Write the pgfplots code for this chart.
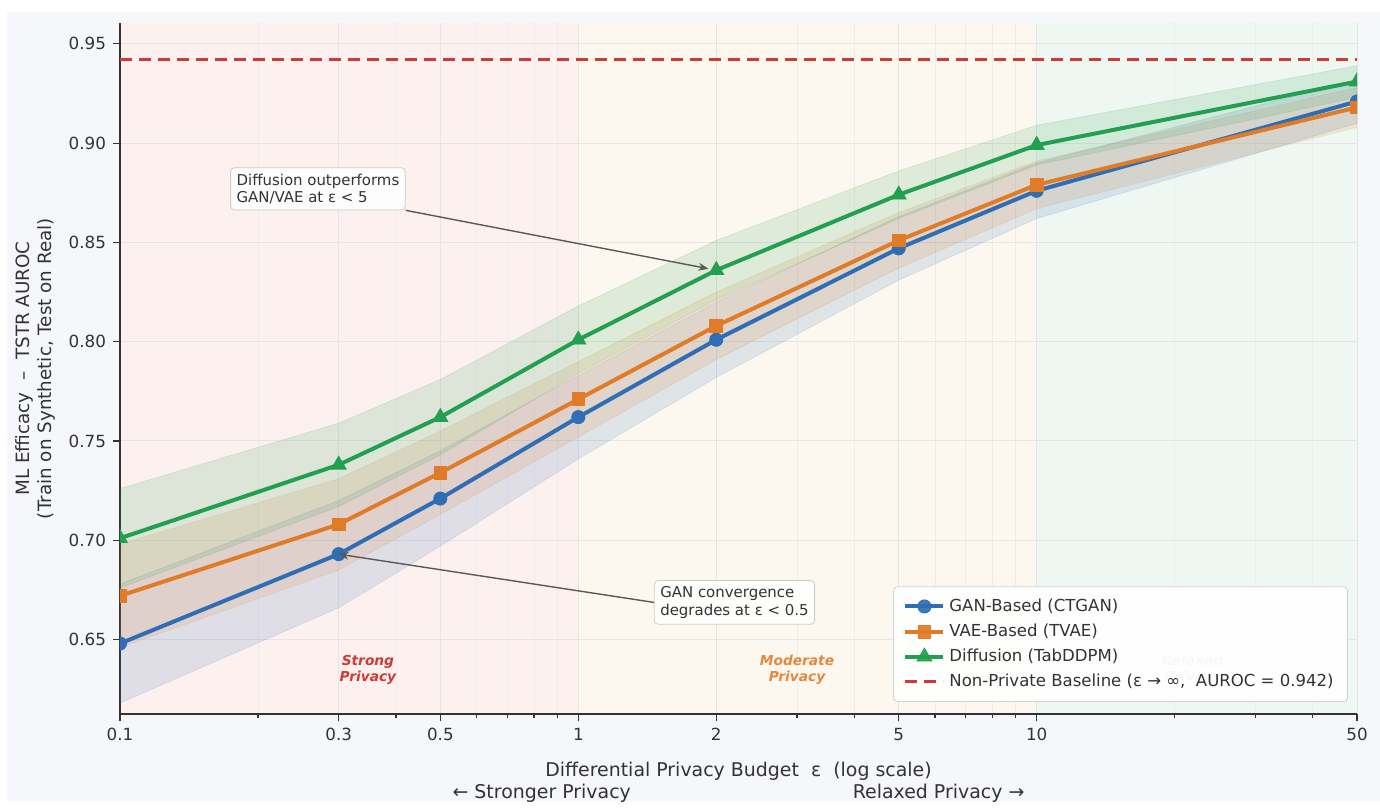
\documentclass[border=0pt]{standalone}
\usepackage{fontspec}
\setmainfont{DejaVu Sans}
\usepackage{pgfplots}
\usepackage{pgfplotstable}
\pgfplotsset{compat=1.18}
\usetikzlibrary{arrows.meta}

\definecolor{cgan}{HTML}{2F6DB5}
\definecolor{cvae}{HTML}{E07B27}
\definecolor{cdif}{HTML}{23A04F}
\definecolor{cbase}{HTML}{D03A35}
\definecolor{figbg}{HTML}{F6F7FB}
\definecolor{rstrong}{HTML}{FCF1EF}
\definecolor{rmod}{HTML}{FDF8EF}
\definecolor{rrel}{HTML}{EEF7F2}
\definecolor{txt}{HTML}{333333}

\pgfplotstableread{
eps gan vae dif
0.1 0.648 0.672 0.701
0.3 0.693 0.708 0.738
0.5 0.721 0.734 0.762
1   0.762 0.771 0.801
2   0.801 0.808 0.836
5   0.847 0.851 0.874
10  0.876 0.879 0.899
50  0.921 0.918 0.931
}\data

\begin{document}
\begin{tikzpicture}
\fill[white] (-60bp,-43.5bp) rectangle (630bp,357bp);
\fill[figbg] (-56.5bp,-43.5bp) rectangle (630bp,351bp);
% privacy regions (eps 0.1-1, 1-10, 10-50 on the log axis)
\fill[rstrong] (0bp,0bp) rectangle (229.16bp,345.5bp);
\fill[rmod] (229.16bp,0bp) rectangle (458.32bp,345.5bp);
\fill[rrel] (458.32bp,0bp) rectangle (618.5bp,345.5bp);
\begin{axis}[
  at={(0,0)}, anchor=south west,
  scale only axis, width=618.5bp, height=345.5bp,
  xmode=log, xmin=0.1, xmax=50, ymin=0.6125, ymax=0.9605,
  axis x line*=bottom, axis y line*=left,
  axis line style={-, color=txt, line width=0.8bp},
  xtick={0.1,0.3,0.5,1,2,5,10,50},
  xticklabels={0.1,0.3,0.5,1,2,5,10,50},
  minor xtick={0.2,0.4,0.6,0.7,0.8,0.9,3,4,6,7,8,9,20,30,40},
  ytick={0.65,0.70,0.75,0.80,0.85,0.90,0.95},
  yticklabel style={/pgf/number format/.cd, fixed, fixed zerofill, precision=2},
  /pgf/number format/assume math mode=true,
  ticklabel style={font=\fontsize{8.4}{10}\selectfont, color=txt},
  tick align=outside, major tick length=3.5bp, minor tick length=2bp,
  tick style={color=txt, line width=0.6bp},
  grid=both,
  major grid style={color=black!10, line width=0.5bp},
  minor grid style={color=black!7, line width=0.4bp},
  clip marker paths=true,
  xlabel={Differential Privacy Budget\ \ ε\ \ (log scale)\\← Stronger Privacy\hspace{111bp}Relaxed Privacy →},
  xlabel style={align=center, font=\fontsize{9.5}{11}\selectfont, color=txt, yshift=-4bp},
  ylabel={ML Efficacy\ \ –\ \ TSTR AUROC\\(Train on Synthetic, Test on Real)},
  ylabel style={align=center, font=\fontsize{9.2}{11}\selectfont, color=txt},
  legend style={at={(0.9927,0.0174)}, anchor=south east,
    font=\fontsize{8.3}{10}\selectfont, draw=black!18, fill=white,
    fill opacity=0.92, text opacity=1, rounded corners=2bp,
    row sep=0.8bp, inner xsep=5bp, inner ysep=4bp, text=txt},
  legend cell align=left,
  legend image code/.code={\draw[mark repeat=2,mark phase=2] plot coordinates {(0bp,0bp) (9.5bp,0bp) (19bp,0bp)};},
]
% +/- bands
\addplot[fill=cgan, fill opacity=0.14, draw=cgan, draw opacity=0.12, forget plot] coordinates {(0.1,0.678)(0.3,0.720)(0.5,0.745)(1,0.783)(2,0.820)(5,0.863)(10,0.890)(50,0.932)(50,0.910)(10,0.862)(5,0.831)(2,0.782)(1,0.741)(0.5,0.697)(0.3,0.666)(0.1,0.618)} -- cycle;
\addplot[fill=cvae, fill opacity=0.14, draw=cvae, draw opacity=0.12, forget plot] coordinates {(0.1,0.698)(0.3,0.731)(0.5,0.755)(1,0.790)(2,0.825)(5,0.865)(10,0.891)(50,0.928)(50,0.908)(10,0.867)(5,0.837)(2,0.791)(1,0.752)(0.5,0.713)(0.3,0.685)(0.1,0.646)} -- cycle;
\addplot[fill=cdif, fill opacity=0.14, draw=cdif, draw opacity=0.12, forget plot] coordinates {(0.1,0.726)(0.3,0.759)(0.5,0.781)(1,0.818)(2,0.851)(5,0.886)(10,0.909)(50,0.939)(50,0.923)(10,0.889)(5,0.862)(2,0.821)(1,0.784)(0.5,0.743)(0.3,0.717)(0.1,0.676)} -- cycle;

\node[font=\fontsize{6.9}{8}\selectfont\bfseries\itshape, text=cbase, align=center] at (axis cs:0.3475,0.6348) {Strong\\Privacy};
\node[font=\fontsize{6.9}{8}\selectfont\bfseries\itshape, text=cvae!90, align=center] at (axis cs:3.0,0.6348) {Moderate\\Privacy};
\node[font=\fontsize{6.9}{8}\selectfont\bfseries\itshape, text=cdif, text opacity=0.5, align=center] at (axis cs:21.9,0.6348) {Relaxed\\Privacy};

\addplot[cgan, line width=2bp, mark=*, mark size=3.3bp, mark options={solid, line width=0.4bp}] table[x=eps,y=gan]{\data};
\addlegendentry{GAN-Based (CTGAN)}
\addplot[cvae, line width=2bp, mark=square*, mark size=3.2bp, mark options={solid, line width=0.4bp}] table[x=eps,y=vae]{\data};
\addlegendentry{VAE-Based (TVAE)}
\addplot[cdif, line width=2bp, mark=triangle*, mark size=4.3bp, mark options={solid, line width=0.4bp}] table[x=eps,y=dif]{\data};
\addlegendentry{Diffusion (TabDDPM)}
\addplot[cbase, line width=1.5bp, dash pattern=on 6bp off 3.5bp] coordinates {(0.1,0.942) (50,0.942)};
\addlegendentry{Non-Private Baseline (ε → ∞,\ \ AUROC = 0.942)}

\node[anchor=west, draw=black!20, fill=white, fill opacity=0.9, text opacity=1, rounded corners=2bp, align=left, font=\fontsize{7.5}{8.8}\selectfont, text=txt, inner sep=3bp] (n1) at (axis cs:0.174,0.877) {Diffusion outperforms\\GAN/VAE at ε < 5};
\draw[-{Stealth[length=5bp,width=4bp]}, black!65, line width=0.7bp, shorten >=4bp] (n1.south east) -- (axis cs:2,0.836);
\node[anchor=west, draw=black!20, fill=white, fill opacity=0.9, text opacity=1, rounded corners=2bp, align=left, font=\fontsize{7.5}{8.8}\selectfont, text=txt, inner sep=3bp] (n2) at (axis cs:1.462,0.6687) {GAN convergence\\degrades at ε < 0.5};
\draw[-{Stealth[length=5bp,width=4bp]}, black!65, line width=0.7bp] (n2.west) -- (axis cs:0.3,0.693);
\end{axis}
\end{tikzpicture}
\end{document}
